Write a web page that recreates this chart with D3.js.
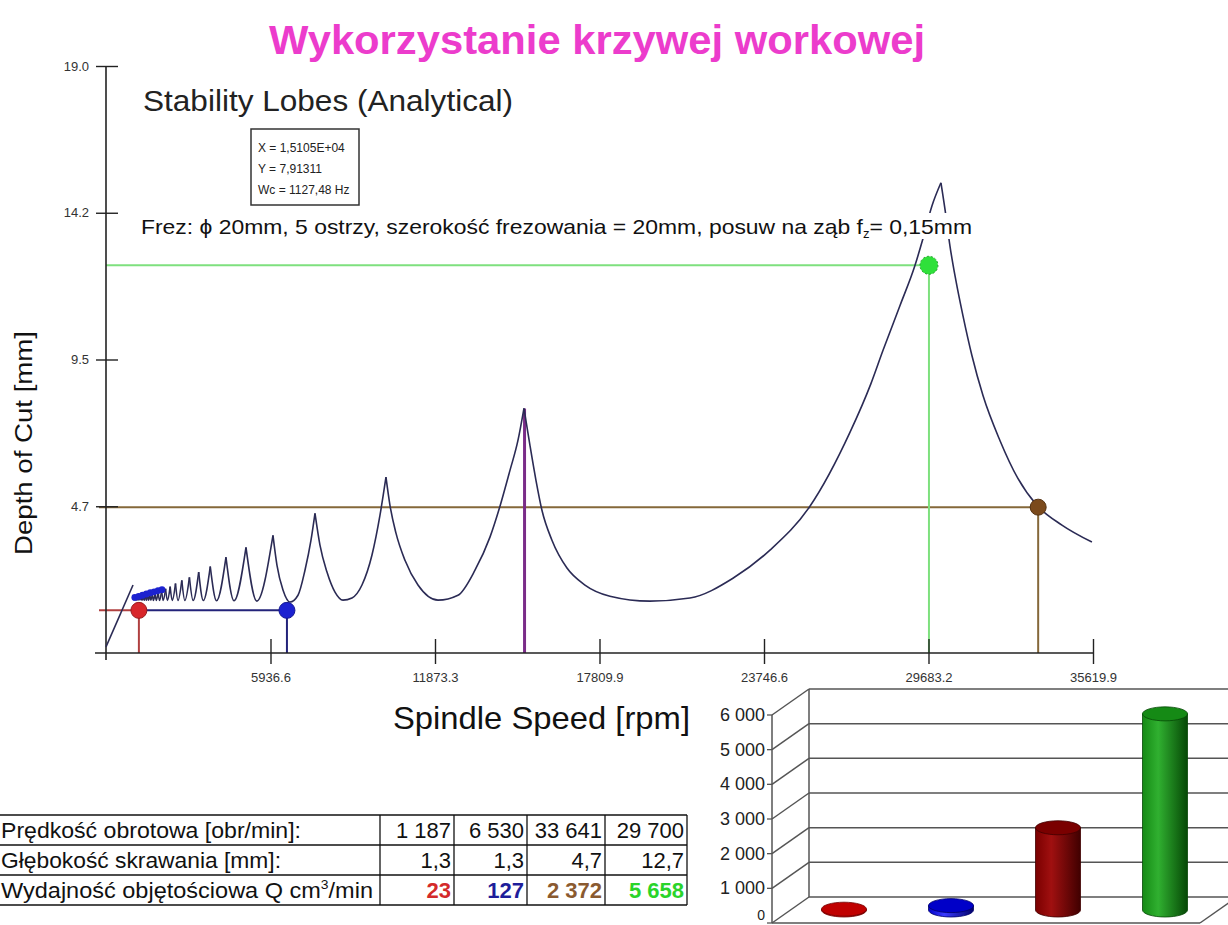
<!DOCTYPE html>
<html>
<head>
<meta charset="utf-8">
<script src="https://cdn.jsdelivr.net/npm/d3@7"></script>
<style>
  body { margin: 0; background: #fff; }
  svg { display: block; }
  text { font-family: "Liberation Sans", Arial, sans-serif; }
</style>
</head>
<body>
<svg id="chart" width="1228" height="925"></svg>
<script>
// ---- data ----
const xTickValues = [5936.6, 11873.3, 17809.9, 23746.6, 29683.2, 35619.9];
const xTickLabels = ['5936.6', '11873.3', '17809.9', '23746.6', '29683.2', '35619.9'];
const yTickValues = [4.75, 9.5, 14.25, 19.0];
const yTickLabels = ['4.7', '9.5', '14.2', '19.0'];

// steep start of the boundary
const riseLine = [[0, 0.2], [975, 2.2]];

// small lobes: cusp rpm / depth, minimum rpm / depth between cusps (low to high rpm)
const cuspRpm   = [1003, 1038, 1075, 1115, 1158, 1204, 1254, 1309, 1368, 1433, 1505, 1584, 1672, 1771, 1881, 2007, 2150, 2315, 2508, 2736, 3010, 3345, 3763, 4330, 5052, 6026];
const cuspDepth = [1.76, 1.77, 1.77, 1.78, 1.79, 1.80, 1.81, 1.82, 1.83, 1.84, 1.85, 1.87, 1.90, 1.94, 1.98, 2.02, 2.08, 2.15, 2.25, 2.35, 2.45, 2.62, 2.80, 3.10, 3.42, 3.81];
const minRpm    = [1017, 1053, 1091, 1132, 1176, 1224, 1276, 1333, 1394, 1462, 1537, 1619, 1712, 1815, 1931, 2064, 2216, 2392, 2599, 2846, 3144, 3512, 3990, 4619, 5442];
const minDepth  = [1.72, 1.72, 1.72, 1.72, 1.72, 1.72, 1.72, 1.71, 1.71, 1.71, 1.71, 1.71, 1.70, 1.70, 1.70, 1.70, 1.70, 1.70, 1.70, 1.70, 1.70, 1.70, 1.69, 1.69, 1.68];

// large lobes traced point by point
const lobe5 = [[6026, 3.81], [6171, 2.84], [6387, 2.04], [6640, 1.65], [6929, 1.87], [7181, 2.68], [7398, 3.65], [7542, 4.52]];
const lobe4 = [[7542, 4.52], [7722, 3.49], [7975, 2.62], [8264, 1.97], [8552, 1.71], [8877, 1.78], [9238, 2.20], [9599, 3.17], [9888, 4.46], [10104, 5.69]];
const lobe3 = [[10104, 5.69], [10248, 4.78], [10465, 3.88], [10790, 3.00], [11259, 2.20], [11981, 1.71], [12702, 1.87], [13316, 2.68], [13857, 3.75], [14218, 4.75], [14579, 5.91], [14867, 6.88], [15084, 7.92]];
const lobe2 = [[15084, 7.92], [15300, 6.72], [15517, 5.59], [15733, 4.62], [16094, 3.65], [16636, 2.75], [17285, 2.20], [18187, 1.84], [19631, 1.68], [21074, 1.78], [22626, 2.42], [23961, 3.33], [25405, 4.75], [26848, 7.14], [27606, 8.72], [28039, 9.79], [28652, 11.24], [29194, 12.54], [29482, 13.41], [29807, 14.47], [30132, 15.22]];
const lobe1 = [[30132, 15.22], [30312, 14.15], [30457, 13.18], [30673, 12.05], [30926, 10.92], [31250, 9.63], [31647, 8.34], [32261, 6.88], [32910, 5.65], [33596, 4.78], [34498, 4.14], [35581, 3.59]];

// blue markers sitting on the dense lobes
const blueMarkRpm   = [1040, 1180, 1320, 1460, 1600, 1740, 1880, 2020];
const blueMarkDepth = [1.80, 1.83, 1.87, 1.91, 1.95, 1.98, 2.02, 2.05];

// working points
const pointNames = ['red', 'blue', 'brown', 'green'];
const pointRpm   = [1187, 6530, 33641, 29700];
const pointDepth = [1.38, 1.38, 4.72, 12.55];
const pointFill  = ['#d8262a', '#1c22d0', '#7b4a1c', '#2fe03a'];
const guideColor = ['#b04040', '#23237a', '#85683a', '#7ee07e'];

// cursor
const cursorRpm = 15105;
const cursorDepth = 7.91311;
const cursorText = ['X = 1,5105E+04', 'Y = 7,91311', 'Wc = 1127,48 Hz'];

// table
const rowLabels = ['Prędkość obrotowa [obr/min]:', 'Głębokość skrawania [mm]:', 'Wydajność objętościowa Q cm³/min'];
const rowSpeed  = ['1 187', '6 530', '33 641', '29 700'];
const rowDepth  = ['1,3', '1,3', '4,7', '12,7'];
const rowQ      = ['23', '127', '2 372', '5 658'];
const qColors   = ['#d42a2a', '#1e1e9a', '#8a5a30', '#2ad42a'];

// 3D bars
const barValues = [23, 127, 2372, 5658];
const barColors = [['#ff4040', '#c00000', '#700000'], ['#3a3aff', '#0000c8', '#00006a'], ['#a01010', '#7a0000', '#400000'], ['#30b030', '#158a15', '#064806']];
const barTicks = [0, 1000, 2000, 3000, 4000, 5000, 6000];
const barTickLabels = ['0', '1 000', '2 000', '3 000', '4 000', '5 000', '6 000'];

// ---- drawing ----
const svg = d3.select('#chart');
svg.append('rect').attr('width', 1228).attr('height', 925).attr('fill', '#fff');

const x = d3.scaleLinear().domain([0, 35619.9]).range([106, 1093]);
const y = d3.scaleLinear().domain([0, 19]).range([653, 66]);
const narrow = '"Liberation Sans Narrow", "DejaVu Sans Condensed", sans-serif';

// title
svg.append('text')
  .attr('x', 597).attr('y', 54)
  .attr('text-anchor', 'middle')
  .attr('font-size', 41).attr('font-weight', 'bold')
  .attr('fill', '#ec3ccc')
  .attr('textLength', 656).attr('lengthAdjust', 'spacingAndGlyphs')
  .text('Wykorzystanie krzywej workowej');

// guide lines (drawn under the curve)
const guides = svg.append('g').attr('class', 'guides');
pointNames.forEach((name, i) => {
  const px = x(pointRpm[i]), py = y(pointDepth[i]);
  if (name === 'blue') {
    guides.append('line').attr('x1', x(pointRpm[0])).attr('x2', px).attr('y1', py).attr('y2', py)
      .attr('stroke', guideColor[i]).attr('stroke-width', 2);
  } else {
    guides.append('line').attr('x1', name === 'green' ? 106 : 99).attr('x2', px).attr('y1', py).attr('y2', py)
      .attr('stroke', guideColor[i]).attr('stroke-width', 2);
  }
  guides.append('line').attr('x1', px).attr('x2', px).attr('y1', py).attr('y2', y(0))
    .attr('stroke', guideColor[i]).attr('stroke-width', 2);
});
// cursor line
guides.append('line')
  .attr('x1', x(cursorRpm)).attr('x2', x(cursorRpm))
  .attr('y1', y(0)).attr('y2', y(cursorDepth))
  .attr('stroke', '#7a2c88').attr('stroke-width', 3);

// axes
const xAxis = svg.append('g')
  .attr('transform', `translate(0,${y(0)})`)
  .call(d3.axisBottom(x).tickValues(xTickValues).tickFormat((d, i) => xTickLabels[i]).tickSize(11).tickPadding(9));
xAxis.select('.domain').remove();
xAxis.append('line').attr('x1', 95).attr('x2', 1093).attr('stroke', '#222').attr('stroke-width', 1.6);
xAxis.selectAll('.tick line').attr('y1', -14).attr('stroke', '#222').attr('stroke-width', 1.4);
xAxis.selectAll('.tick text').attr('font-size', 13).attr('fill', '#333').attr('font-family', narrow);

const yAxis = svg.append('g')
  .attr('transform', 'translate(106,0)')
  .call(d3.axisLeft(y).tickValues(yTickValues).tickFormat((d, i) => yTickLabels[i]).tickSize(13).tickPadding(4));
yAxis.select('.domain').remove();
yAxis.append('line').attr('y1', 66).attr('y2', 660).attr('stroke', '#222').attr('stroke-width', 1.6);
yAxis.selectAll('.tick line').attr('x2', 12).attr('x1', -10).attr('stroke', '#222').attr('stroke-width', 1.4);
yAxis.selectAll('.tick text').attr('x', -17).attr('font-size', 13).attr('fill', '#333').attr('font-family', narrow);

// axis titles
svg.append('text')
  .attr('transform', 'translate(32,443) rotate(-90)')
  .attr('text-anchor', 'middle').attr('font-size', 23).attr('fill', '#111')
  .attr('textLength', 224).attr('lengthAdjust', 'spacingAndGlyphs')
  .text('Depth of Cut [mm]');
svg.append('text')
  .attr('x', 690).attr('y', 729).attr('text-anchor', 'end')
  .attr('font-size', 32).attr('fill', '#111')
  .attr('textLength', 297).attr('lengthAdjust', 'spacingAndGlyphs')
  .text('Spindle Speed [rpm]');

// stability lobes
const line = d3.line().x(d => x(d[0])).y(d => y(d[1])).curve(d3.curveMonotoneX);
const segments = [riseLine];
minRpm.forEach((m, i) => {
  segments.push([[cuspRpm[i], cuspDepth[i]], [m, minDepth[i]], [cuspRpm[i + 1], cuspDepth[i + 1]]]);
});
segments.push(lobe5, lobe4, lobe3, lobe2, lobe1);
svg.append('g').attr('class', 'lobes')
  .selectAll('path').data(segments).join('path')
  .attr('d', line)
  .attr('fill', 'none').attr('stroke', '#2b2b55').attr('stroke-width', 1.6);

// blue markers
svg.append('g').selectAll('circle').data(blueMarkRpm).join('circle')
  .attr('cx', d => x(d)).attr('cy', (d, i) => y(blueMarkDepth[i]))
  .attr('r', 3.4).attr('fill', '#1c22d0');

// working points
svg.append('g').selectAll('circle').data(pointNames).join('circle')
  .attr('cx', (d, i) => x(pointRpm[i])).attr('cy', (d, i) => y(pointDepth[i]))
  .attr('r', (d, i) => i === 3 ? 9 : 8)
  .attr('fill', (d, i) => pointFill[i])
  .attr('stroke', (d, i) => d3.color(pointFill[i]).darker(1))
  .attr('stroke-width', 1)
  .attr('stroke-dasharray', (d, i) => i === 3 ? '2,2' : null);

// chart subtitle
svg.append('text')
  .attr('x', 143).attr('y', 111)
  .attr('font-size', 29).attr('fill', '#222')
  .attr('textLength', 370).attr('lengthAdjust', 'spacingAndGlyphs')
  .text('Stability Lobes (Analytical)');

// cursor info box
svg.append('rect').attr('x', 251).attr('y', 129).attr('width', 108).attr('height', 76)
  .attr('fill', '#fff').attr('stroke', '#333').attr('stroke-width', 1.5);
svg.append('g').selectAll('text').data(cursorText).join('text')
  .attr('x', 258).attr('y', (d, i) => 152 + i * 21)
  .attr('font-size', 12).attr('fill', '#222')
  .attr('font-family', narrow)
  .text(d => d);

// tool description (white backing hides the curve behind it)
svg.append('rect').attr('x', 138).attr('y', 213).attr('width', 838).attr('height', 26).attr('fill', '#fff');
const frez = svg.append('text')
  .attr('x', 141).attr('y', 234)
  .attr('font-size', 21).attr('fill', '#111')
  .attr('textLength', 831).attr('lengthAdjust', 'spacingAndGlyphs');
frez.append('tspan').text('Frez: ϕ 20mm, 5 ostrzy, szerokość frezowania = 20mm, posuw na ząb f');
frez.append('tspan').attr('font-size', 12).attr('dy', 4).text('z');
frez.append('tspan').attr('dy', -4).text('= 0,15mm');

// ---- table ----
const colEdges = [0, 380, 454, 527, 605, 687];
const rowEdges = [815, 845, 875, 905];
const table = svg.append('g').attr('class', 'table');
const rows = [rowSpeed, rowDepth, rowQ];
const labelWidths = [300, 280, 372];
rowEdges.forEach(ry => table.append('line').attr('x1', 0).attr('x2', 687).attr('y1', ry).attr('y2', ry)
  .attr('stroke', '#111').attr('stroke-width', 1.3));
colEdges.slice(1).forEach(cx => table.append('line').attr('x1', cx).attr('x2', cx).attr('y1', 815).attr('y2', 905)
  .attr('stroke', '#111').attr('stroke-width', 1.3));
rowLabels.forEach((lab, r) => {
  const t = table.append('text').attr('x', 1).attr('y', rowEdges[r] + 23)
    .attr('font-size', 22).attr('fill', '#111')
    .attr('textLength', labelWidths[r]).attr('lengthAdjust', 'spacingAndGlyphs');
  if (r === 2) {
    t.append('tspan').text('Wydajność objętościowa Q cm');
    t.append('tspan').attr('font-size', 13).attr('dy', -9).text('3');
    t.append('tspan').attr('dy', 9).text('/min');
  } else {
    t.text(lab);
  }
  rows[r].forEach((v, c) => {
    table.append('text').attr('x', colEdges[c + 2] - 3).attr('y', rowEdges[r] + 23)
      .attr('text-anchor', 'end').attr('font-size', 22)
      .attr('font-family', narrow)
      .attr('font-weight', r === 2 ? 'bold' : null)
      .attr('fill', r === 2 ? qColors[c] : '#111')
      .text(v);
  });
});

// ---- 3D bar chart ----
const bx0 = 772, bx1 = 1200, by0 = 923, ddx = 37, ddy = -26;
const bh = d3.scaleLinear().domain([0, 6000]).range([0, 208]);
const bxBand = d3.scaleBand().domain(d3.range(barValues.length)).range([bx0, bx1]);
const bars = svg.append('g').attr('class', 'bars');

barTicks.forEach((t, i) => {
  const fy = by0 - bh(t);
  bars.append('line').attr('x1', bx0).attr('y1', fy).attr('x2', bx0 + ddx).attr('y2', fy + ddy)
    .attr('stroke', '#555').attr('stroke-width', 1.5);
  bars.append('line').attr('x1', bx0 + ddx).attr('y1', fy + ddy).attr('x2', 1240).attr('y2', fy + ddy)
    .attr('stroke', '#555').attr('stroke-width', 1.5);
  bars.append('line').attr('x1', bx0 - 5).attr('y1', fy).attr('x2', bx0).attr('y2', fy)
    .attr('stroke', '#555').attr('stroke-width', 1.3);
  bars.append('text').attr('x', bx0 - 7).attr('y', t === 0 ? 920 : fy + 6).attr('text-anchor', 'end')
    .attr('font-size', t === 0 ? 14 : 18).attr('fill', '#222').attr('font-family', narrow)
    .text(barTickLabels[i]);
});
bars.append('line').attr('x1', bx0).attr('x2', bx0).attr('y1', by0 - bh(6000)).attr('y2', by0)
  .attr('stroke', '#555').attr('stroke-width', 1.5);
bars.append('line').attr('x1', bx0 + ddx).attr('x2', bx0 + ddx).attr('y1', by0 + ddy - bh(6000)).attr('y2', by0 + ddy)
  .attr('stroke', '#555').attr('stroke-width', 1.5);
bars.append('line').attr('x1', bx0).attr('x2', bx1).attr('y1', by0).attr('y2', by0)
  .attr('stroke', '#555').attr('stroke-width', 1.5);
bars.append('line').attr('x1', bx1).attr('x2', bx1 + ddx).attr('y1', by0).attr('y2', by0 + ddy)
  .attr('stroke', '#555').attr('stroke-width', 1.5);

const defs = svg.append('defs');
barColors.forEach((c, i) => {
  const g = defs.append('linearGradient').attr('id', 'cyl' + i).attr('x1', 0).attr('x2', 1).attr('y1', 0).attr('y2', 0);
  g.append('stop').attr('offset', '0%').attr('stop-color', c[1]);
  g.append('stop').attr('offset', '35%').attr('stop-color', c[0]);
  g.append('stop').attr('offset', '100%').attr('stop-color', c[2]);
});
const cw = 45, cry = 7;
barValues.forEach((v, i) => {
  const cx = bxBand(i) + bxBand.bandwidth() / 2 + ddx / 2;
  const yb = by0 + ddy / 2;
  const yt = yb - bh(v);
  const body = `M${cx - cw / 2},${yt} L${cx - cw / 2},${yb} A${cw / 2},${cry} 0 0 0 ${cx + cw / 2},${yb} L${cx + cw / 2},${yt} Z`;
  bars.append('path').attr('d', body).attr('fill', `url(#cyl${i})`).attr('stroke', barColors[i][2]).attr('stroke-width', 0.8);
  bars.append('ellipse').attr('cx', cx).attr('cy', yt).attr('rx', cw / 2).attr('ry', cry)
    .attr('fill', barColors[i][1]).attr('stroke', barColors[i][2]).attr('stroke-width', 0.8);
});
</script>
</body>
</html>
